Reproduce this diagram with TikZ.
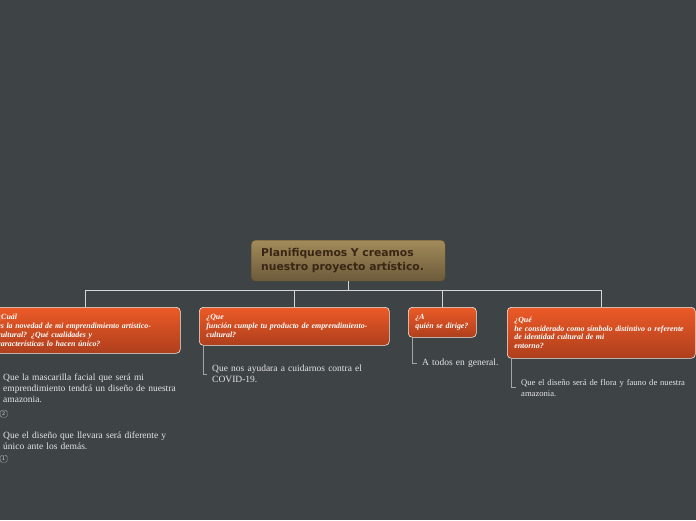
\documentclass[tikz,border=0pt]{standalone}
\usepackage{fontspec}
\setmainfont{Liberation Serif}
\newfontfamily\rootfont{DejaVu Sans}
\usetikzlibrary{positioning, calc}
\definecolor{fondo}{HTML}{3E4446}
\definecolor{orotop}{HTML}{A28B5A}
\definecolor{orobot}{HTML}{6C5A3A}
\definecolor{cafe}{HTML}{3A2614}
\definecolor{rojotop}{HTML}{EC5A27}
\definecolor{rojobot}{HTML}{AE3F1D}
\definecolor{linea}{HTML}{D6D6D6}
\definecolor{hoja}{HTML}{E4E4E4}
\definecolor{gris}{HTML}{A4A4A4}
\tikzset{
  raiz/.style={anchor=north west, rounded corners=4pt, top color=orotop, bottom color=orobot,
    draw=orobot!80!black, line width=0.4pt, text=cafe, font=\rootfont\bfseries\fontsize{10.8}{14}\selectfont,
    minimum width=194pt, minimum height=41pt, text width=174pt, inner xsep=10pt, align=left},
  tema/.style={anchor=north west, rounded corners=4pt, top color=rojotop, bottom color=rojobot,
    draw=white!85!gray, line width=0.6pt, text=white, font=\bfseries\itshape\fontsize{7.9}{8.9}\selectfont,
    inner xsep=7pt, inner ysep=4pt, align=left},
  hojita/.style={anchor=north west, inner sep=0pt, text=hoja, font=\fontsize{9.5}{11}\selectfont, align=left},
  marca/.style={anchor=north west, draw=gris, rounded corners=1.5pt, inner sep=0pt, minimum size=7pt,
    text=hoja, font=\sffamily\fontsize{5.5}{5.5}\selectfont},
  rama/.style={draw=linea, line width=1pt},
  ramita/.style={draw=gris, line width=0.8pt}
}
\begin{document}
\begin{tikzpicture}[x=1pt,y=-1pt]
  \fill[fondo] (0,0) rectangle (696,520);
  \useasboundingbox (0,0) rectangle (696,520);

  \node[raiz] (root) at (251,240) {Planifiquemos Y creamos\\nuestro proyecto artístico.};

  \node[tema, text width=176pt, minimum height=46pt] (t1) at (-10,307)
    {¿Cuál\\es la novedad de mi emprendimiento artístico-\\cultural? ¿Qué cualidades y\\características lo hacen único?};
  \node[tema, text width=176pt, minimum height=38pt] (t2) at (199,307)
    {¿Que\\función cumple tu producto de emprendimiento-\\cultural?};
  \node[tema, text width=54pt, minimum height=30pt] (t3) at (408,307)
    {¿A\\quién se dirige?};
  \node[tema, text width=174pt, minimum height=51pt] (t4) at (507,307)
    {¿Qué\\he considerado como símbolo distintivo o referente\\de identidad cultural de mi\\entorno?};

  \coordinate (bus) at ($(root.south)+(0,9)$);
  \draw[rama] (root.south) -- (bus);
  \draw[rama] (bus) -| (t1.north);
  \draw[rama] (bus) -| (t2.north);
  \draw[rama] (bus) -| (t3.north);
  \draw[rama] (bus) -| (t4.north);

  \node[hojita, text width=180pt] (l1a) at (3,374)
    {Que la mascarilla facial que será mi\\emprendimiento tendrá un diseño de nuestra\\amazonia.};
  \node[marca] (m2) at (0,410) {2};
  \node[hojita, text width=180pt] (l1b) at (3,432)
    {Que el diseño que llevara será diferente y\\único ante los demás.};
  \node[marca] (m1) at (0,455) {1};

  \node[hojita, text width=170pt] (l2) at (212,365)
    {Que nos ayudara a cuidarnos contra el\\COVID-19.};
  \node[hojita, text width=90pt] (l3) at (422,359) {A todos en general.};
  \node[hojita, text width=174pt, font=\fontsize{8.6}{11}\selectfont] (l4) at (521,379)
    {Que el diseño será de flora y fauno de nuestra\\amazonia.};

  \draw[ramita] ([xshift=4pt]t2.south west) |- ([xshift=-5pt]l2.west);
  \draw[ramita] ([xshift=4pt]t3.south west) |- ([xshift=-5pt]l3.west);
  \draw[ramita] ([xshift=4pt]t4.south west) |- ([xshift=-5pt]l4.west);
\end{tikzpicture}
\end{document}
